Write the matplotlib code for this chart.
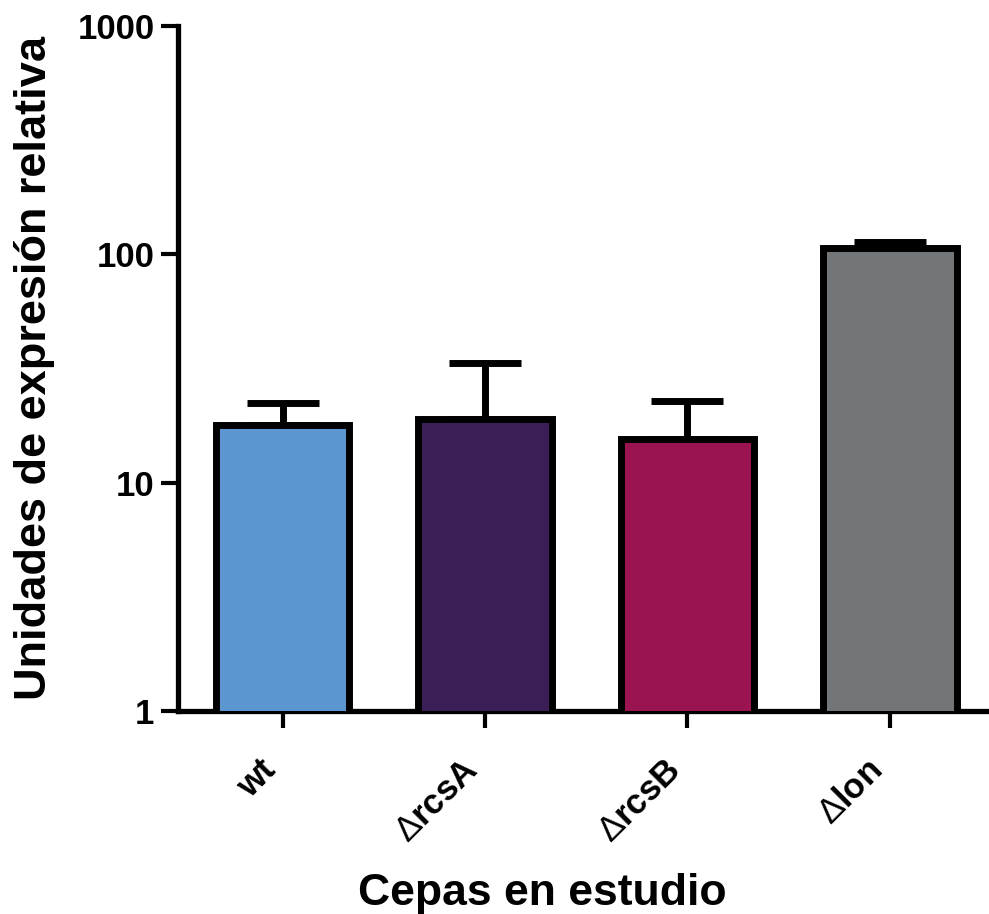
import matplotlib
matplotlib.use("Agg")
import matplotlib.pyplot as plt
from matplotlib.ticker import FixedLocator, FixedFormatter, NullLocator
from matplotlib.transforms import ScaledTranslation

# Strains and relative expression (mean, upper error)
strains = ["wt", r"$\Delta$rcsA", r"$\Delta$rcsB", r"$\Delta$lon"]
expression = [17.8, 19.0, 15.5, 106.7]
error_up = [4.5, 14.4, 7.3, 6.6]
bar_colors = ["#5B96D0", "#3B1E56", "#9B1452", "#737678"]
y_ticks = [1, 10, 100, 1000]
y_tick_labels = ["1", "10", "100", "1000"]

plt.rcParams["font.family"] = ["Liberation Sans", "DejaVu Sans"]
plt.rcParams["font.weight"] = "bold"
plt.rcParams["mathtext.fontset"] = "custom"
plt.rcParams["mathtext.rm"] = "Liberation Sans:weight=normal"
plt.rcParams["mathtext.default"] = "rm"

W, H = 989, 914
fig = plt.figure(figsize=(W / 100, H / 100), dpi=100)
ax = fig.add_axes([178 / W, (H - 711) / H, 1 - 178 / W, (711 - 26) / H])

x = list(range(len(strains)))
ax.errorbar(x, expression, yerr=[[0] * len(x), error_up], fmt="none",
            ecolor="black", elinewidth=5, capsize=26, capthick=5, zorder=2)
ax.bar(x, expression, width=0.66, color=bar_colors, edgecolor="black",
       linewidth=5, zorder=3)

ax.set_yscale("log")
ax.set_ylim(1, 1000)
ax.set_xlim(-0.517, 3.49)
ax.yaxis.set_major_locator(FixedLocator(y_ticks))
ax.yaxis.set_major_formatter(FixedFormatter(y_tick_labels))
ax.yaxis.set_minor_locator(NullLocator())

for side in ("top", "right"):
    ax.spines[side].set_visible(False)
for side in ("left", "bottom"):
    ax.spines[side].set_linewidth(3.8)
ax.tick_params(axis="both", which="major", length=12, width=3, pad=5,
               color="black")
ax.tick_params(axis="x", pad=8)

ax.set_xticks(x)
ax.set_xticklabels(strains, rotation=45, ha="right", va="top",
                   rotation_mode="anchor", fontsize=25, fontweight="bold")
shift = ScaledTranslation(-24 / 100, -15 / 100, fig.dpi_scale_trans)
for lab in ax.get_xticklabels():
    lab.set_transform(lab.get_transform() + shift)
for lab in ax.get_yticklabels():
    lab.set_fontsize(25)
    lab.set_fontweight("bold")

fig.text(55 / W, 0.5 * ((H - 711) + (H - 26)) / H, "Unidades de expresión relativa",
         rotation=90, ha="right", va="center", fontsize=32.5, fontweight="bold")
fig.text(542 / W, (H - 905) / H, "Cepas en estudio", ha="center", va="baseline",
         fontsize=32, fontweight="bold")

fig.savefig("out.png", dpi=100)
